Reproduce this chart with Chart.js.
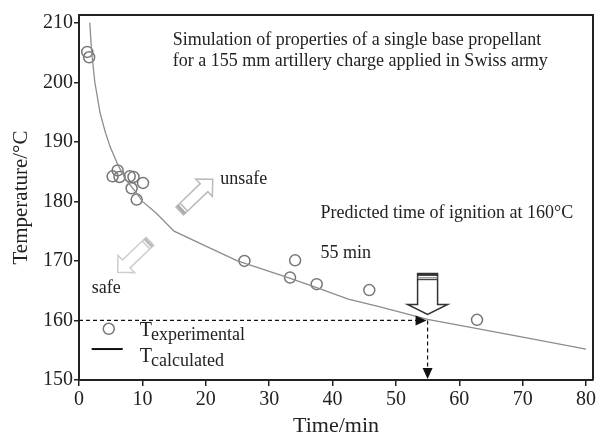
<!DOCTYPE html>
<html>
<head>
<meta charset="utf-8">
<script src="https://cdn.jsdelivr.net/npm/chart.js@4.4.1/dist/chart.umd.min.js"></script>
<style>
  body { margin: 0; background: #fff; }
  #wrap { width: 600px; height: 437px; }
</style>
</head>
<body>
<div id="wrap"><canvas id="grafico" width="600" height="437"></canvas></div>
<script>
// datos (Time/min, Temperature/°C)
const tiempoExp = [1.3, 1.6, 5.3, 6.1, 6.4, 8.0, 8.6, 8.3, 10.1, 9.1, 26.1, 33.3, 34.1, 37.5, 45.8, 62.8];
const tempExp   = [205.1, 204.2, 184.2, 185.2, 184.1, 184.2, 184.1, 182.2, 183.1, 180.3, 170.0, 167.2, 170.1, 166.1, 165.1, 160.1];

const tiempoCalc = [1.7, 2.0, 2.5, 3.3, 4.1, 4.9, 6.2, 7.5, 9.0, 10.0, 12.2, 15.0, 19.0, 25.0, 33.0, 37.5, 42.5, 47.5, 55.0, 62.0, 70.0, 80.0];
const tempCalc   = [210, 205, 200, 195, 191.8, 189.2, 186, 183.5, 181.5, 180, 178, 175, 173, 170, 167.2, 165.5, 163.6, 162.3, 160.2, 158.8, 157.2, 155.2];

const ticksX = [0, 10, 20, 30, 40, 50, 60, 70, 80];
const ticksY = [150, 160, 170, 180, 190, 200, 210];

// tiempo de ignicion predicho
const tIgnicion = 55;
const tempIgnicion = 160;

const fuente = "'Liberation Serif', 'Times New Roman', serif";
Chart.defaults.font.family = fuente;
Chart.defaults.color = '#222';

function flechaBloque(ctx, x0, y0, x1, y1, semiAncho, semiCabeza, largoCabeza, color, bandas) {
  const dx = x1 - x0, dy = y1 - y0, L = Math.hypot(dx, dy);
  const ux = dx / L, uy = dy / L, vx = -uy, vy = ux;
  const p = (s, t) => [x0 + ux * s + vx * t, y0 + uy * s + vy * t];
  const pts = [p(0, -semiAncho), p(L - largoCabeza, -semiAncho), p(L - largoCabeza, -semiCabeza), p(L, 0),
    p(L - largoCabeza, semiCabeza), p(L - largoCabeza, semiAncho), p(0, semiAncho)];
  ctx.beginPath();
  pts.forEach((q, i) => i ? ctx.lineTo(q[0], q[1]) : ctx.moveTo(q[0], q[1]));
  ctx.closePath();
  ctx.fillStyle = '#fff';
  ctx.fill();
  ctx.strokeStyle = color;
  ctx.lineWidth = 1.5;
  ctx.stroke();
  // bandas en la cola
  bandas.forEach(b => {
    ctx.lineWidth = b.w;
    ctx.strokeStyle = b.c;
    ctx.beginPath();
    const a = p(b.s, -semiAncho), c = p(b.s, semiAncho);
    ctx.moveTo(a[0], a[1]);
    ctx.lineTo(c[0], c[1]);
    ctx.stroke();
  });
}

function punta(ctx, x, y, dir) {
  // cabeza de flecha negra rellena
  ctx.beginPath();
  if (dir === 'derecha') {
    ctx.moveTo(x, y); ctx.lineTo(x - 11, y - 5); ctx.lineTo(x - 11, y + 5);
  } else {
    ctx.moveTo(x, y); ctx.lineTo(x - 5, y - 11); ctx.lineTo(x + 5, y - 11);
  }
  ctx.closePath();
  ctx.fillStyle = '#111';
  ctx.fill();
}

function textoSub(ctx, x, y, base, sub) {
  ctx.font = '20px ' + fuente;
  ctx.fillText(base, x, y);
  const w = ctx.measureText(base).width;
  ctx.font = '18px ' + fuente;
  ctx.fillText(sub, x + w - 1, y + 4);
}

const extras = {
  id: 'extras',
  afterDatasetsDraw(chart) {
    const { ctx, chartArea: a, scales: { x, y } } = chart;
    const px = v => x.getPixelForValue(v);
    const py = v => y.getPixelForValue(v);
    ctx.save();

    // marco superior y derecho
    ctx.strokeStyle = '#222';
    ctx.lineWidth = 2;
    ctx.beginPath();
    ctx.moveTo(a.left, a.top);
    ctx.lineTo(a.right, a.top);
    ctx.lineTo(a.right, a.bottom);
    ctx.stroke();

    // puntas de las lineas discontinuas
    punta(ctx, px(tIgnicion) - 1, py(tempIgnicion), 'derecha');
    punta(ctx, px(tIgnicion), py(150) - 1, 'abajo');

    // flecha grande hacia abajo
    const xi = px(tIgnicion), yi = py(tempIgnicion);
    flechaBloque(ctx, xi, yi - 47, xi, yi - 6, 10, 20, 10, '#333', [
      { s: 1.2, w: 2.5, c: '#333' }, { s: 4, w: 1, c: '#999' }, { s: 6, w: 1.5, c: '#444' }]);

    // flechas unsafe / safe
    flechaBloque(ctx, px(15.9), py(178.4), px(21.1), py(183.7), 5.5, 12, 12, '#bbb', [
      { s: 2, w: 3, c: '#aaa' }, { s: 5.5, w: 1.5, c: '#bbb' }]);
    flechaBloque(ctx, px(11.2), py(173.3), px(6.1), py(168.1), 5.5, 12, 12, '#ccc', [
      { s: 2, w: 3, c: '#bbb' }, { s: 5.5, w: 1.5, c: '#ccc' }]);

    // textos
    ctx.fillStyle = '#222';
    ctx.textBaseline = 'alphabetic';
    ctx.textAlign = 'left';
    ctx.font = '18px ' + fuente;
    ctx.fillText('Simulation of properties of a single base propellant', px(14.8), py(206.3));
    ctx.fillText('for a 155 mm artillery charge applied in Swiss army', px(14.8), py(202.7));
    ctx.fillText('unsafe', px(22.3), py(182.9));
    ctx.fillText('Predicted time of ignition at 160°C', px(38.1), py(177.2));
    ctx.fillText('55 min', px(38.1), py(170.5));
    ctx.fillText('safe', px(2.0), py(164.6));

    // leyenda
    ctx.strokeStyle = '#777';
    ctx.lineWidth = 1.5;
    ctx.beginPath();
    ctx.arc(px(4.7), py(158.6), 5.5, 0, Math.PI * 2);
    ctx.stroke();
    ctx.strokeStyle = '#111';
    ctx.lineWidth = 2;
    ctx.beginPath();
    ctx.moveTo(px(2.0), py(155.2));
    ctx.lineTo(px(6.9), py(155.2));
    ctx.stroke();
    ctx.fillStyle = '#222';
    textoSub(ctx, px(9.6), py(157.4), 'T', 'experimental');
    textoSub(ctx, px(9.6), py(153.1), 'T', 'calculated');

    ctx.restore();
  }
};

new Chart(document.getElementById('grafico'), {
  type: 'scatter',
  data: {
    datasets: [
      {
        label: 'Tcalculated',
        type: 'line',
        data: tiempoCalc.map((t, i) => ({ x: t, y: tempCalc[i] })),
        borderColor: '#8c8c8c',
        borderWidth: 1.3,
        pointRadius: 0,
        tension: 0,
        fill: false,
      },
      {
        label: 'Texperimental',
        data: tiempoExp.map((t, i) => ({ x: t, y: tempExp[i] })),
        borderColor: '#777',
        backgroundColor: 'rgba(0,0,0,0)',
        borderWidth: 1.5,
        pointRadius: 5.5,
        pointStyle: 'circle',
      },
      {
        label: 'h',
        type: 'line',
        data: [{ x: 0, y: tempIgnicion }, { x: tIgnicion - 1.5, y: tempIgnicion }],
        borderColor: '#111',
        borderWidth: 1.2,
        borderDash: [4, 3],
        pointRadius: 0,
      },
      {
        label: 'v',
        type: 'line',
        data: [{ x: tIgnicion, y: tempIgnicion }, { x: tIgnicion, y: 151.5 }],
        borderColor: '#111',
        borderWidth: 1.2,
        borderDash: [4, 3],
        pointRadius: 0,
      },
    ],
  },
  options: {
    responsive: false,
    animation: false,
    devicePixelRatio: 1,
    layout: { padding: { top: 15, right: 5, left: 0, bottom: 0 } },
    plugins: { legend: { display: false }, tooltip: { enabled: false } },
    scales: {
      x: {
        type: 'linear',
        min: 0,
        max: 81.1,
        afterBuildTicks: s => { s.ticks = ticksX.map(v => ({ value: v })); },
        afterFit: s => { s.height = 57; },
        ticks: { font: { size: 20 }, color: '#222', padding: 2, maxRotation: 0 },
        grid: { drawOnChartArea: false, drawTicks: true, tickLength: 6, color: '#222', lineWidth: 1.5 },
        border: { color: '#222', width: 2 },
        title: { display: true, text: 'Time/min', font: { size: 22 }, color: '#222', padding: { top: 0, bottom: -2 } },
      },
      y: {
        type: 'linear',
        min: 150,
        max: 211.3,
        afterBuildTicks: s => { s.ticks = ticksY.map(v => ({ value: v })); },
        afterFit: s => { s.width = 79; },
        ticks: { font: { size: 20 }, color: '#222', padding: 1 },
        grid: { drawOnChartArea: false, drawTicks: true, tickLength: 5, color: '#222', lineWidth: 1.5 },
        border: { color: '#222', width: 2 },
        title: { display: true, text: 'Temperature/°C', font: { size: 21 }, color: '#222', padding: { top: 9, bottom: 0 } },
      },
    },
  },
  plugins: [extras],
});
</script>
</body>
</html>
